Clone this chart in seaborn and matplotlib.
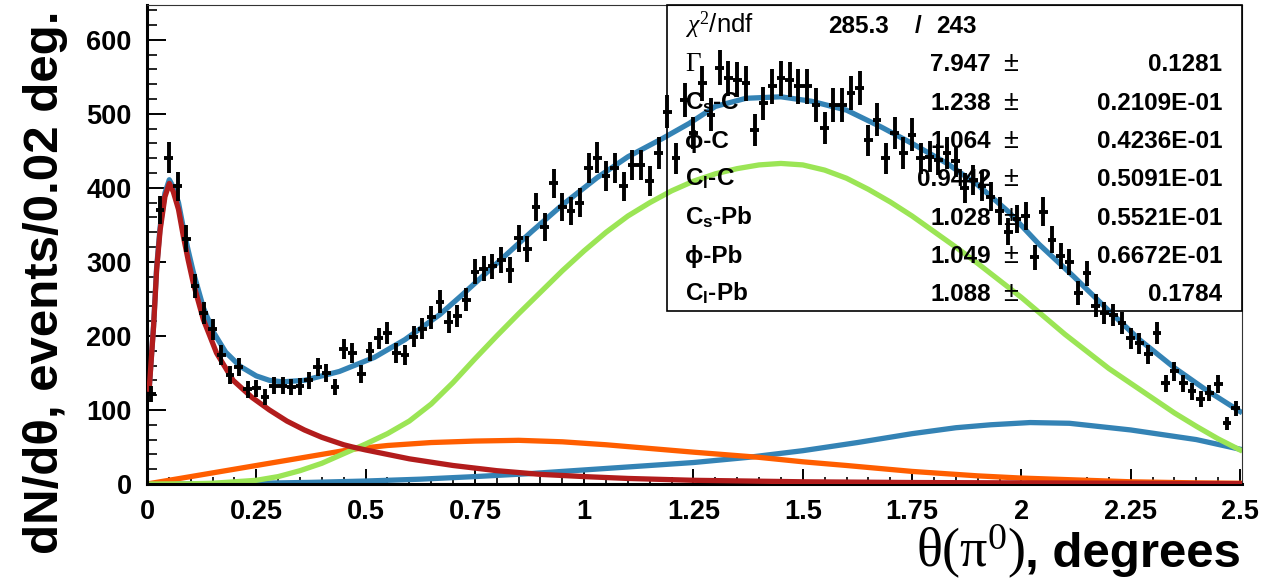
import numpy as np
import pandas as pd
import matplotlib
matplotlib.use("Agg")
import matplotlib.pyplot as plt
import matplotlib.patches as mpatches
from matplotlib.ticker import MultipleLocator
import seaborn as sns

# ---------------- data ----------------
counts = [122, 370, 441, 402, 331, 267, 231, 209, 174, 147,
          158, 128, 129, 117, 133, 133, 131, 132, 140, 158,
          150, 131, 182, 177, 149, 179, 197, 204, 177, 174,
          199, 210, 225, 246, 219, 227, 249, 287, 291, 294,
          303, 289, 332, 317, 374, 347, 406, 374, 369, 380,
          427, 441, 416, 427, 402, 431, 431, 409, 447, 503,
          440, 519, 474, 541, 499, 562, 548, 546, 541, 478,
          514, 537, 548, 546, 537, 537, 512, 481, 512, 512,
          528, 535, 464, 492, 440, 474, 447, 472, 440, 442,
          438, 447, 436, 400, 410, 403, 388, 369, 341, 358,
          362, 306, 368, 330, 308, 300, 258, 285, 241, 231,
          228, 217, 197, 190, 175, 204, 136, 152, 136, 125,
          115, 123, 135, 82, 102]
bin_width = 0.02
bin_centers = np.round(0.01 + bin_width * np.arange(len(counts)), 3)

total_x = [0.005, 0.015, 0.022, 0.030, 0.041, 0.051, 0.060, 0.072, 0.083, 0.094,
           0.106, 0.129, 0.152, 0.18, 0.213, 0.25, 0.28, 0.31, 0.36, 0.44, 0.52,
           0.59, 0.67, 0.72, 0.80, 0.88, 0.95, 1.03, 1.10, 1.18, 1.24, 1.30, 1.37,
           1.45, 1.52, 1.60, 1.68, 1.75, 1.83, 1.90, 1.97, 2.04, 2.12, 2.20, 2.27,
           2.35, 2.42, 2.50]
total_y = [129, 214, 292, 347, 393, 411, 401, 380, 346, 316,
           286, 238, 205, 178, 159, 146, 140, 138, 140, 152, 171,
           195, 229, 255, 298, 341, 377, 414, 442, 467, 487, 510, 521,
           523, 517, 505, 482, 460, 433, 404, 368, 324, 280, 234, 195,
           157, 128, 98]

red_x = [0.005, 0.015, 0.022, 0.030, 0.041, 0.051, 0.060, 0.072, 0.083, 0.094,
         0.106, 0.129, 0.159, 0.197, 0.24, 0.28, 0.32, 0.36, 0.40, 0.45, 0.47,
         0.50, 0.60, 0.70, 0.80, 0.90, 1.00, 1.10, 1.25, 1.50, 1.75, 2.00, 2.25, 2.50]
red_y = [128, 212, 289, 343, 388, 406, 395, 371, 335, 303,
         271, 222, 177, 140, 117, 100, 85, 73, 63, 53, 50,
         46, 34, 25, 18, 13, 10, 7.5, 5, 3, 2, 1.5, 1, 0.5]

green_x = [0.005, 0.1, 0.15, 0.2, 0.25, 0.3, 0.35, 0.4, 0.45, 0.5, 0.55, 0.6, 0.65,
           0.7, 0.75, 0.8, 0.85, 0.9, 0.95, 1.0, 1.05, 1.1, 1.15, 1.2, 1.25, 1.3,
           1.35, 1.4, 1.45, 1.5, 1.55, 1.6, 1.65, 1.7, 1.75, 1.8, 1.85, 1.9, 1.95,
           2.0, 2.05, 2.1, 2.15, 2.2, 2.25, 2.3, 2.35, 2.4, 2.45, 2.5]
green_y = [0, 0.3, 1, 3, 5, 10, 18, 28, 41, 54, 68, 85, 108,
           137, 169, 200, 230, 259, 288, 315, 340, 362, 380, 396, 409, 419,
           426, 431, 433, 431, 424, 413, 398, 381, 362, 341, 320, 298, 275,
           252, 227, 202, 179, 156, 136, 116, 96, 78, 61, 46]

orange_x = [0.005, 0.1, 0.2, 0.3, 0.4, 0.47, 0.55, 0.65, 0.75, 0.85, 0.95, 1.05,
            1.15, 1.25, 1.4, 1.5, 1.6, 1.75, 1.9, 2.0, 2.15, 2.25, 2.4, 2.5]
orange_y = [0.5, 10, 20, 30, 40, 47, 52, 56, 58, 59, 57, 53,
            48, 43, 36, 30, 25, 17, 11, 8, 5, 3, 1.5, 1]

blue_x = [0.005, 0.125, 0.25, 0.375, 0.5, 0.625, 0.75, 0.875, 1.0, 1.125, 1.25,
          1.375, 1.5, 1.625, 1.75, 1.85, 1.93, 2.02, 2.11, 2.25, 2.4, 2.5]
blue_y = [0, 0.4, 1, 2.2, 4, 6.5, 10, 14, 19, 24, 29,
          36, 45, 56, 68, 76, 80, 83, 82, 73, 60, 47]

xtick_vals = [0, 0.25, 0.5, 0.75, 1, 1.25, 1.5, 1.75, 2, 2.25, 2.5]
xtick_labels = ["0", "0.25", "0.5", "0.75", "1", "1.25", "1.5", "1.75", "2", "2.25", "2.5"]
ytick_vals = [0, 100, 200, 300, 400, 500, 600]

par_names = [r"$\Gamma$", r"C$_{\mathbf{s}}$-C", "\u03d5-C", r"C$_{\mathbf{l}}$-C",
             r"C$_{\mathbf{s}}$-Pb", "\u03d5-Pb", r"C$_{\mathbf{l}}$-Pb"]
par_values = ["7.947", "1.238", "1.064", "0.9442", "1.028", "1.049", "1.088"]
par_errors = ["0.1281", "0.2109E-01", "0.4236E-01", "0.5091E-01",
              "0.5521E-01", "0.6672E-01", "0.1784"]
chi2_text = "285.3"
ndf_text = "243"

# ---------------- style ----------------
W, H = 1266, 586
plt.rcParams["font.family"] = ["Liberation Sans", "DejaVu Sans"]
plt.rcParams["mathtext.fontset"] = "custom"
plt.rcParams["mathtext.rm"] = "Liberation Serif"
plt.rcParams["mathtext.it"] = "Liberation Serif:italic"
plt.rcParams["mathtext.bf"] = "Liberation Sans:bold"

C_RED = "#b21c1c"
C_GREEN = "#9be555"
C_ORANGE = "#ff5e00"
C_BLUE = "#3483b5"

fig = plt.figure(figsize=(W / 100, H / 100), dpi=100)
fig.patch.set_facecolor("white")
L, R, T, B = 147, 1242, 5, 484
ax = fig.add_axes([L / W, 1 - B / H, (R - L) / W, (B - T) / H])
ax.set_facecolor("white")

lw = 3.8
df_tot = pd.DataFrame({"x": total_x, "y": total_y})
sns.lineplot(data=df_tot, x="x", y="y", ax=ax, color=C_BLUE, linewidth=lw, errorbar=None, zorder=2)
sns.lineplot(x=blue_x, y=blue_y, ax=ax, color=C_BLUE, linewidth=lw, errorbar=None, zorder=2)
sns.lineplot(x=orange_x, y=orange_y, ax=ax, color=C_ORANGE, linewidth=lw, errorbar=None, zorder=2)
sns.lineplot(x=green_x, y=green_y, ax=ax, color=C_GREEN, linewidth=lw, errorbar=None, zorder=2)
sns.lineplot(x=red_x, y=red_y, ax=ax, color=C_RED, linewidth=lw, errorbar=None, zorder=3)

ax.errorbar(bin_centers, counts, xerr=bin_width / 2, yerr=np.sqrt(counts),
            fmt="none", ecolor="black", elinewidth=2.8, capsize=0, zorder=5)

ax.set_xlim(0, 2.5046)
ax.set_ylim(0, 647)
ax.set_xlabel("")
ax.set_ylabel("")
ax.set_xticks(xtick_vals)
ax.set_xticklabels(xtick_labels)
ax.set_yticks(ytick_vals)
ax.set_yticklabels([str(v) for v in ytick_vals])
ax.xaxis.set_minor_locator(MultipleLocator(0.05))
ax.yaxis.set_minor_locator(MultipleLocator(20))
for lab in ax.get_xticklabels() + ax.get_yticklabels():
    lab.set_fontweight("bold")
    lab.set_fontsize(19.5)
ax.tick_params(axis="x", which="major", direction="in", length=11, width=1.4, pad=11)
ax.tick_params(axis="x", which="minor", direction="in", length=5, width=1.2)
ax.tick_params(axis="y", which="major", direction="in", length=14, width=1.4, pad=11)
ax.tick_params(axis="y", which="minor", direction="in", length=7, width=1.2)
ax.tick_params(top=False, right=False, which="both")
for s in ["left", "bottom"]:
    ax.spines[s].set_linewidth(2.2)
for s in ["top", "right"]:
    ax.spines[s].set_linewidth(0.8)
    ax.spines[s].set_color("#333333")


def fx(x):
    return x / W


def fy(y):
    return 1 - y / H


# y label
fig.text(fx(46), fy(10), "dN/d\u03b8, events/0.02 deg.", rotation=90, ha="center", va="top",
         fontsize=35.5, fontweight="bold")

# x label
t_deg = fig.text(fx(1241), fy(567), ", degrees", ha="right", va="baseline",
                 fontsize=35.5, fontweight="bold")
fig.canvas.draw()
bb = t_deg.get_window_extent()
fig.text(bb.x0 / W, fy(567), r"$\mathrm{\theta(\pi^{0})}$", ha="right", va="baseline", fontsize=39)

# stats box
box = mpatches.Rectangle((fx(667), fy(311)), (1242 - 667) / W, (311 - 5) / H,
                         transform=fig.transFigure, fill=False, edgecolor="black", linewidth=1.2,
                         zorder=6)
fig.add_artist(box)

fs = 17.5
base_off = 8
fig.text(fx(685), fy(25 + base_off), r"$\chi^{2}$/ndf", ha="left", va="baseline", fontsize=fs + 1)
fig.text(fx(889), fy(25 + base_off), chi2_text, ha="right", va="baseline", fontsize=fs, fontweight="bold")
fig.text(fx(918), fy(25 + base_off), "/", ha="center", va="baseline", fontsize=fs, fontweight="bold")
fig.text(fx(977), fy(25 + base_off), ndf_text, ha="right", va="baseline", fontsize=fs, fontweight="bold")
row_y = [63, 102, 140, 178, 217, 255, 293]
for name, val, err, yy in zip(par_names, par_values, par_errors, row_y):
    fig.text(fx(685), fy(yy + base_off), name, ha="left", va="baseline",
             fontsize=fs + 2 if "Gamma" in name else fs,
             fontweight="bold" if "Gamma" not in name else "normal")
    fig.text(fx(991), fy(yy + base_off), val, ha="right", va="baseline", fontsize=fs, fontweight="bold")
    fig.text(fx(1011), fy(yy + base_off), "\u00b1", ha="center", va="baseline", fontsize=fs + 2)
    fig.text(fx(1222), fy(yy + base_off), err, ha="right", va="baseline", fontsize=fs, fontweight="bold")

fig.savefig("out.png", dpi=100, facecolor="white")
